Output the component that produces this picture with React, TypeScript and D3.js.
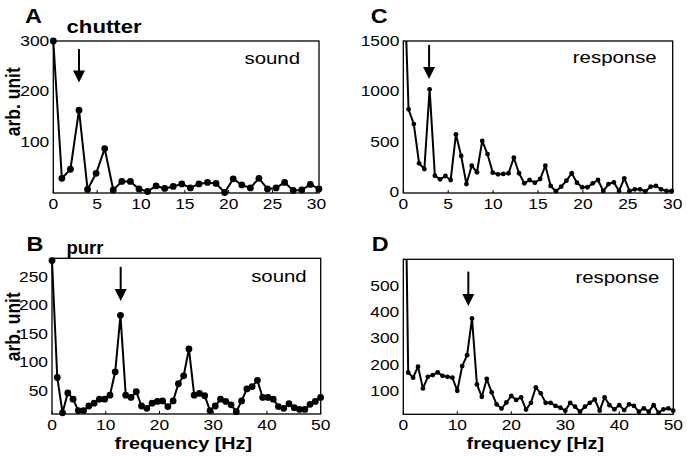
import React from 'react';
import * as d3 from 'd3';

// ---------- data ----------
// Panel A: chutter, sound spectrum (bins ~0.977 Hz)
const chutterSound = [300, 28, 46, 163, 6, 38, 87, 5, 22, 22, 7, 2, 13, 8, 12, 17, 9, 17, 20, 18, 0, 27, 15, 9, 28, 7, 9, 20, 4, 5, 16, 7];
const chutterSoundStep = 0.977;
// Panel C: chutter, response spectrum (bins ~0.586 Hz)
const chutterResponse = [2400, 821, 675, 285, 228, 1020, 162, 126, 159, 119, 573, 358, 79, 261, 196, 507, 377, 192, 176, 179, 186, 340, 186, 86, 119, 92, 129, 261, 60, 8, 53, 112, 186, 92, 47, 47, 86, 119, 10, 79, 96, 10, 136, 10, 27, 27, 5, 53, 60, 27, 10, 10];
const chutterResponseStep = 0.586;
// Panel B: purr, sound spectrum (bins ~0.98 Hz)
const purrSound = [278, 73, 11, 46, 35, 15, 15, 23, 28, 35, 35, 42, 83, 182, 42, 38, 48, 23, 19, 28, 31, 32, 22, 32, 62, 76, 123, 42, 45, 41, 15, 23, 35, 31, 25, 13, 32, 53, 57, 68, 38, 38, 35, 22, 19, 27, 20, 17, 17, 26, 31, 38];
const purrSoundStep = 0.98;
// Panel D: purr, response spectrum (bins ~0.909 Hz)
const purrResponse = [1500, 169, 150, 192, 109, 153, 160, 170, 157, 153, 150, 100, 194, 236, 376, 124, 77, 145, 94, 48, 32, 55, 80, 65, 75, 28, 54, 113, 90, 54, 54, 42, 35, 24, 54, 39, 20, 39, 54, 67, 24, 75, 45, 29, 45, 26, 48, 42, 20, 33, 20, 45, 16, 29, 33, 24];
const purrResponseStep = 0.909;

const xTicksChutter = [0, 5, 10, 15, 20, 25, 30];
const xTicksPurr = [0, 10, 20, 30, 40, 50];
const yTicksA = [100, 200, 300];
const yTicksC = [0, 500, 1000, 1500];
const yTicksB = [50, 100, 150, 200, 250];
const yTicksD = [100, 200, 300, 400, 500];

const panelLetters = ['A', 'B', 'C', 'D'];
const callTypes = ['chutter', 'purr'];
const signalNames = ['sound', 'response'];
const yAxisTitle = 'arb. unit';
const xAxisTitle = 'frequency [Hz]';

// arrow annotations: frequency, top value, tip value (per panel A, C, B, D)
const arrowFreqs = [2.93, 2.87, 12.78, 12.04];
const arrowTops = [284, 1460, 267, 555];
const arrowTips = [218, 1122, 207, 424];

const FONT = "'Liberation Sans', Arial, Helvetica, sans-serif";
const SX = 1.2;

type STextProps = {
  x: number; y: number; size: number; weight?: string | number; anchor?: string;
  sx?: number; rotate?: number; children: React.ReactNode;
};
const SText = ({ x, y, size, weight = 'normal', anchor = 'start', sx = SX, rotate, children }: STextProps) => (
  <text
    transform={`translate(${x},${y}) scale(${sx},1)${rotate ? ` rotate(${rotate})` : ''}`}
    fontSize={size}
    fontWeight={weight}
    textAnchor={anchor}
    fontFamily={FONT}
    fill="#000"
  >
    {children}
  </text>
);

type PanelProps = {
  id: string;
  frame: { left: number; top: number; right: number; bottom: number };
  xDomain: [number, number];
  yDomain: [number, number];
  values: number[];
  step: number;
  xTicks: number[];
  yTicks: number[];
  r: number;
  arrowIdx: number;
  xLabelY: number;
  showXTitle: boolean;
};

const Panel = ({ id, frame, xDomain, yDomain, values, step, xTicks, yTicks, r, arrowIdx, xLabelY, showXTitle }: PanelProps) => {
  const x = d3.scaleLinear().domain(xDomain).range([frame.left, frame.right]);
  const y = d3.scaleLinear().domain(yDomain).range([frame.bottom, frame.top]);
  const pts = values.map((v, i) => ({ f: i * step, v }));
  const line = d3.line<{ f: number; v: number }>().x((d) => x(d.f)).y((d) => y(d.v));
  const clipId = `clip-${id}`;

  const ax = x(arrowFreqs[arrowIdx]);
  const aTop = y(arrowTops[arrowIdx]);
  const aTip = y(arrowTips[arrowIdx]);
  const headLen = 12;
  const headHalf = 6;

  return (
    <g>
      <defs>
        <clipPath id={clipId}>
          <rect x={frame.left - 6} y={frame.top} width={frame.right - frame.left + 12} height={frame.bottom - frame.top + 6} />
        </clipPath>
      </defs>
      <rect
        x={frame.left}
        y={frame.top}
        width={frame.right - frame.left}
        height={frame.bottom - frame.top}
        fill="none"
        stroke="#000"
        strokeWidth={1.3}
      />
      {xTicks.map((t) => (
        <g key={`xt${t}`}>
          <line x1={x(t)} x2={x(t)} y1={frame.bottom} y2={frame.bottom - 3} stroke="#000" strokeWidth={1} />
          <SText x={x(t)} y={xLabelY} size={14.5} anchor="middle">{t}</SText>
        </g>
      ))}
      {yTicks.map((t) => (
        <g key={`yt${t}`}>
          <SText x={frame.left - 4} y={y(t) + 5} size={14.5} anchor="end">{t}</SText>
        </g>
      ))}
      <g clipPath={`url(#${clipId})`}>
        <path d={line(pts) || ''} fill="none" stroke="#000" strokeWidth={2} strokeLinejoin="round" />
      </g>
      {pts
        .filter((p) => p.v <= yDomain[1])
        .map((p, i) => (
          <circle key={i} cx={x(p.f)} cy={y(p.v)} r={r} fill="#000" />
        ))}
      <line x1={ax} x2={ax} y1={aTop} y2={aTip - headLen + 1} stroke="#000" strokeWidth={2} />
      <path d={`M${ax - headHalf},${aTip - headLen} L${ax + headHalf},${aTip - headLen} L${ax},${aTip} Z`} fill="#000" />
      {showXTitle && (
        <SText x={(frame.left + frame.right) / 2 - 3} y={449} size={16.5} weight="bold" anchor="middle">{xAxisTitle}</SText>
      )}
    </g>
  );
};

export default function App() {
  const frameA = { left: 53.3, top: 41, right: 319, bottom: 193 };
  const frameC = { left: 403.3, top: 41, right: 672.7, bottom: 193 };
  const frameB = { left: 52, top: 258.3, right: 320.7, bottom: 414 };
  const frameD = { left: 403.3, top: 259.3, right: 673.3, bottom: 414.3 };

  return (
    <svg
      width={687}
      height={457}
      viewBox="0 0 687 457"
      style={{ position: 'absolute', left: 0, top: 0, background: '#fff' }}
    >
      <rect x={0} y={0} width={687} height={457} fill="#fff" />
      <Panel id="A" frame={frameA} xDomain={[0, 30.3]} yDomain={[-1, 300]} values={chutterSound} step={chutterSoundStep}
        xTicks={xTicksChutter} yTicks={yTicksA} r={3.4} arrowIdx={0} xLabelY={209} showXTitle={false} />
      <Panel id="C" frame={frameC} xDomain={[0, 30]} yDomain={[-10, 1500]} values={chutterResponse} step={chutterResponseStep}
        xTicks={xTicksChutter} yTicks={yTicksC} r={2.4} arrowIdx={1} xLabelY={209} showXTitle={false} />
      <Panel id="B" frame={frameB} xDomain={[0, 50]} yDomain={[9, 282]} values={purrSound} step={purrSoundStep}
        xTicks={xTicksPurr} yTicks={yTicksB} r={3.4} arrowIdx={2} xLabelY={430} showXTitle={true} />
      <Panel id="D" frame={frameD} xDomain={[0, 50]} yDomain={[10, 602]} values={purrResponse} step={purrResponseStep}
        xTicks={xTicksPurr} yTicks={yTicksD} r={2.4} arrowIdx={3} xLabelY={430} showXTitle={true} />

      <SText x={25} y={23} size={19.5} weight="bold">{panelLetters[0]}</SText>
      <SText x={26.5} y={251} size={19.5} weight="bold">{panelLetters[1]}</SText>
      <SText x={370.7} y={23.3} size={19.5} weight="bold">{panelLetters[2]}</SText>
      <SText x={371.7} y={251} size={19.5} weight="bold">{panelLetters[3]}</SText>

      <SText x={66.5} y={33} size={18.5} weight="bold">{callTypes[0]}</SText>
      <SText x={66.5} y={254.3} size={18.5} weight="bold" sx={1.0}>{callTypes[1]}</SText>

      <SText x={300} y={64} size={17} anchor="end">{signalNames[0]}</SText>
      <SText x={656.7} y={63.3} size={17} anchor="end">{signalNames[1]}</SText>
      <SText x={306.7} y={281.7} size={17} anchor="end">{signalNames[0]}</SText>
      <SText x={659.3} y={283.3} size={17} anchor="end">{signalNames[1]}</SText>

      <SText x={20} y={101.7} size={17.5} weight="bold" anchor="middle" rotate={-90}>{yAxisTitle}</SText>
      <SText x={19.5} y={326.7} size={17.5} weight="bold" anchor="middle" rotate={-90}>{yAxisTitle}</SText>
    </svg>
  );
}
